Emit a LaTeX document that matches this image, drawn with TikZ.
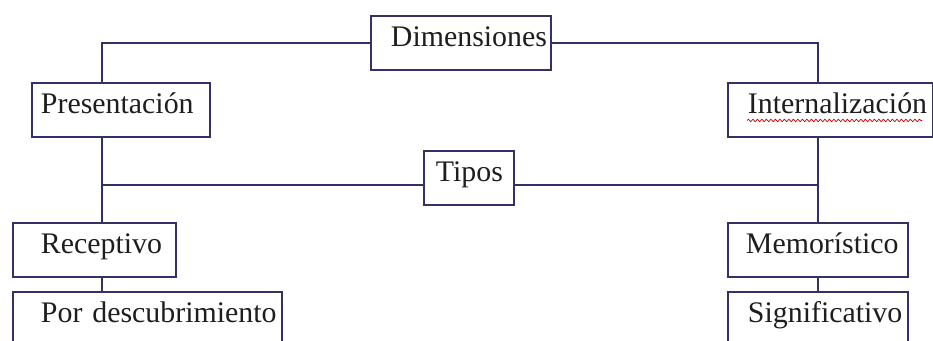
\documentclass[tikz,border=0pt]{standalone}
\usepackage{fontspec}
\setmainfont{Liberation Serif}
\usepackage{tikz}
\usetikzlibrary{decorations.pathmorphing}

\definecolor{linecol}{RGB}{52,50,100}
\definecolor{textcol}{RGB}{30,30,30}
\hyphenpenalty=10000

\tikzset{
  box/.style={draw=linecol, line width=1.1pt, anchor=north west, align=left,
    inner ysep=0pt, text height=0.62cm, text depth=0.46cm, text=textcol,
    font=\fontsize{17}{20}\selectfont},
  link/.style={draw=linecol, line width=1.1pt},
  spell/.style={draw=red!80!black, line width=0.4pt,
    decorate, decoration={snake, segment length=0.09cm, amplitude=0.025cm}}
}

\begin{document}
\begin{tikzpicture}
\useasboundingbox (0,0) rectangle (18.66,-6.82);

\node [box, inner xsep=0.40cm, text width=2.80cm] (DIM) at (7.40,-0.30) {Dimensiones};
\node [box, inner xsep=0.18cm, text width=3.20cm] (PRES) at (0.62,-1.64) {Presentación};
\node [box, inner xsep=0.40cm, text width=3.30cm] (INT) at (14.54,-1.64) {Internalización};
\node [box, inner xsep=0.24cm, text width=1.32cm] (TIPOS) at (8.46,-3.00) {Tipos};
\node [box, inner xsep=0.56cm, text width=2.14cm] (REC) at (0.24,-4.44) {Receptivo};
\node [box, inner xsep=0.56cm, text width=4.26cm] (DESC) at (0.24,-5.82) {\mbox{Por descubrimiento}};
\node [box, inner xsep=0.36cm, text width=2.88cm] (MEM) at (14.54,-4.44) {Memorístico};
\node [box, inner xsep=0.40cm, text width=2.80cm] (SIG) at (14.54,-5.82) {Significativo};

\coordinate (DL) at (2.04,-0.86);
\coordinate (DR) at (16.36,-0.86);
\coordinate (TL) at (2.04,-3.70);
\coordinate (TR) at (16.36,-3.70);

\draw [link] (DIM.west |- DL) -- (DL) -- (PRES.north -| DL);
\draw [link] (DIM.east |- DR) -- (DR) -- (INT.north -| DR);
\draw [link] (PRES.south -| DL) -- (REC.north -| DL);
\draw [link] (INT.south -| DR) -- (MEM.north -| DR);
\draw [link] (TIPOS.west |- TL) -- (TL);
\draw [link] (TIPOS.east |- TR) -- (TR);
\draw [link] (REC.south -| DL) -- (DESC.north -| DL);
\draw [link] (MEM.south -| DR) -- (SIG.north -| DR);

\draw [spell] ([xshift=0.40cm,yshift=-0.13cm]INT.base west) -- ++(3.50,0);
\end{tikzpicture}
\end{document}
